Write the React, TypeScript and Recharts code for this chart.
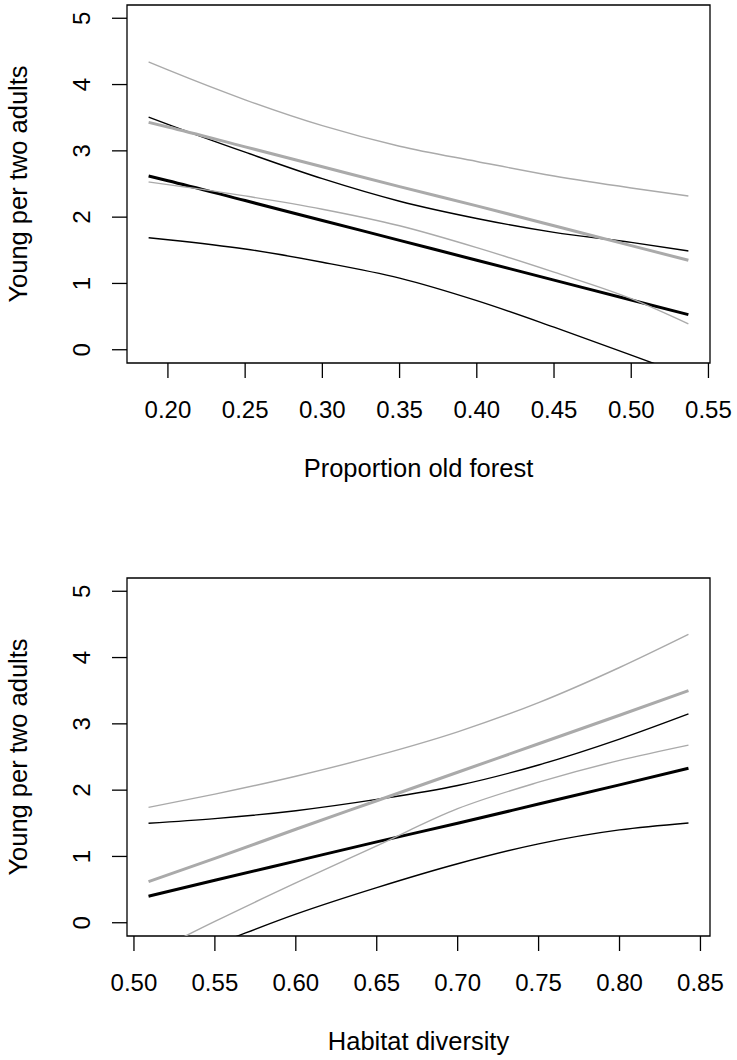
import React from 'react';
import { LineChart, Line, XAxis, YAxis, ReferenceArea, Label } from 'recharts';

// ---- Panel 1: Proportion old forest ----
const forestX = [0.1875, 0.2, 0.25, 0.3, 0.35, 0.4, 0.45, 0.5, 0.537];
const forestGreyUpper = [4.34, 4.22, 3.77, 3.38, 3.07, 2.84, 2.62, 2.44, 2.32];
const forestGreyFit = [3.43, 3.36, 3.06, 2.76, 2.46, 2.17, 1.87, 1.57, 1.35];
const forestGreyLower = [2.53, 2.49, 2.32, 2.12, 1.87, 1.54, 1.17, 0.77, 0.39];
const forestBlackUpper = [3.51, 3.4, 2.98, 2.58, 2.24, 1.98, 1.77, 1.62, 1.49];
const forestBlackFit = [2.62, 2.55, 2.25, 1.95, 1.65, 1.35, 1.05, 0.75, 0.53];
const forestBlackLower = [1.69, 1.66, 1.52, 1.32, 1.08, 0.74, 0.34, -0.08, -0.4];
const forestTicks = [0.2, 0.25, 0.3, 0.35, 0.4, 0.45, 0.5, 0.55];
const forestDomain = [0.1735, 0.551];

// ---- Panel 2: Habitat diversity ----
const habitatX = [0.509, 0.55, 0.6, 0.65, 0.7, 0.75, 0.8, 0.8426];
const habitatGreyUpper = [1.74, 1.94, 2.21, 2.52, 2.88, 3.32, 3.85, 4.35];
const habitatGreyFit = [0.62, 0.97, 1.41, 1.84, 2.27, 2.7, 3.13, 3.5];
const habitatGreyLower = [-0.48, 0.02, 0.6, 1.16, 1.72, 2.12, 2.45, 2.68];
const habitatBlackUpper = [1.5, 1.57, 1.69, 1.86, 2.07, 2.38, 2.77, 3.15];
const habitatBlackFit = [0.4, 0.64, 0.93, 1.22, 1.5, 1.79, 2.08, 2.33];
const habitatBlackLower = [-0.7, -0.33, 0.13, 0.53, 0.89, 1.19, 1.4, 1.505];
const habitatTicks = [0.5, 0.55, 0.6, 0.65, 0.7, 0.75, 0.8, 0.85];
const habitatDomain = [0.4957, 0.8559];

const yTicks = [0, 1, 2, 3, 4, 5];
const yDomain = [-0.2, 5.2];
const yTitle = 'Young per two adults';

const FONT = '"Liberation Sans", Arial, Helvetica, sans-serif';
const GREY = '#aaaaaa';
const BLACK = '#000000';

function buildRows(xs: number[], gu: number[], gf: number[], gl: number[], bu: number[], bf: number[], bl: number[]) {
  return xs.map((x, i) => ({ x, gu: gu[i], gf: gf[i], gl: gl[i], bu: bu[i], bf: bf[i], bl: bl[i] }));
}

const forestRows = buildRows(forestX, forestGreyUpper, forestGreyFit, forestGreyLower, forestBlackUpper, forestBlackFit, forestBlackLower);
const habitatRows = buildRows(habitatX, habitatGreyUpper, habitatGreyFit, habitatGreyLower, habitatBlackUpper, habitatBlackFit, habitatBlackLower);

const XTick = (props: any) => {
  const { x, y, payload } = props;
  return (
    <text x={x} y={y + 40} textAnchor="middle" fontFamily={FONT} fontSize={24} fill="#000">
      {Number(payload.value).toFixed(2)}
    </text>
  );
};

const YTick = (props: any) => {
  const { x, y, payload } = props;
  const bx = x - 22;
  return (
    <text x={bx} y={y} transform={`rotate(-90 ${bx} ${y})`} textAnchor="middle" fontFamily={FONT} fontSize={24} fill="#000">
      {payload.value}
    </text>
  );
};

const makeXTitle = (title: string) => (props: any) => {
  const vb = props.viewBox || {};
  return (
    <text x={vb.x + vb.width / 2} y={vb.y + 114} textAnchor="middle" fontFamily={FONT} fontSize={25.5} fill="#000">
      {title}
    </text>
  );
};

const makeYTitle = (title: string) => (props: any) => {
  const vb = props.viewBox || {};
  const cx = vb.x - 40;
  const cy = vb.y + vb.height / 2;
  return (
    <text x={cx} y={cy} transform={`rotate(-90 ${cx} ${cy})`} textAnchor="middle" fontFamily={FONT} fontSize={25.5} fill="#000">
      {title}
    </text>
  );
};

function Panel({ rows, xDomain, xTicks, xTitle, height, bottom }: any) {
  return (
    <LineChart width={737} height={height} data={rows} margin={{ top: 5, right: 27, left: 67, bottom }}>
      <XAxis
        type="number"
        dataKey="x"
        domain={xDomain}
        ticks={xTicks}
        allowDataOverflow
        axisLine={false}
        tickLine={{ stroke: '#000', strokeWidth: 1.3 }}
        tickSize={15}
        tickMargin={0}
        height={60}
        tick={<XTick />}
        interval={0}
      >
        <Label content={makeXTitle(xTitle)} />
      </XAxis>
      <YAxis
        type="number"
        domain={yDomain}
        ticks={yTicks}
        allowDataOverflow
        axisLine={false}
        tickLine={{ stroke: '#000', strokeWidth: 1.3 }}
        tickSize={15}
        tickMargin={0}
        width={60}
        tick={<YTick />}
        interval={0}
      >
        <Label content={makeYTitle(yTitle)} />
      </YAxis>
      <ReferenceArea x1={xDomain[0]} x2={xDomain[1]} y1={yDomain[0]} y2={yDomain[1]} fill="none" fillOpacity={0} stroke="#000" strokeWidth={1.3} strokeOpacity={1} ifOverflow="visible" />
      <Line type="monotone" dataKey="bu" stroke={BLACK} strokeWidth={1.4} dot={false} activeDot={false} isAnimationActive={false} />
      <Line type="monotone" dataKey="bl" stroke={BLACK} strokeWidth={1.4} dot={false} activeDot={false} isAnimationActive={false} />
      <Line type="monotone" dataKey="bf" stroke={BLACK} strokeWidth={3} dot={false} activeDot={false} isAnimationActive={false} />
      <Line type="monotone" dataKey="gu" stroke={GREY} strokeWidth={1.4} dot={false} activeDot={false} isAnimationActive={false} />
      <Line type="monotone" dataKey="gl" stroke={GREY} strokeWidth={1.4} dot={false} activeDot={false} isAnimationActive={false} />
      <Line type="monotone" dataKey="gf" stroke={GREY} strokeWidth={3} dot={false} activeDot={false} isAnimationActive={false} />
    </LineChart>
  );
}

export default function App() {
  return (
    <div style={{ position: 'absolute', left: 0, top: 0, width: 737, height: 1060, background: '#fff' }}>
      <div style={{ position: 'absolute', left: 0, top: 0 }}>
        <Panel rows={forestRows} xDomain={forestDomain} xTicks={forestTicks} xTitle="Proportion old forest" height={530} bottom={107} />
      </div>
      <div style={{ position: 'absolute', left: 0, top: 573 }}>
        <Panel rows={habitatRows} xDomain={habitatDomain} xTicks={habitatTicks} xTitle="Habitat diversity" height={487} bottom={64} />
      </div>
    </div>
  );
}
